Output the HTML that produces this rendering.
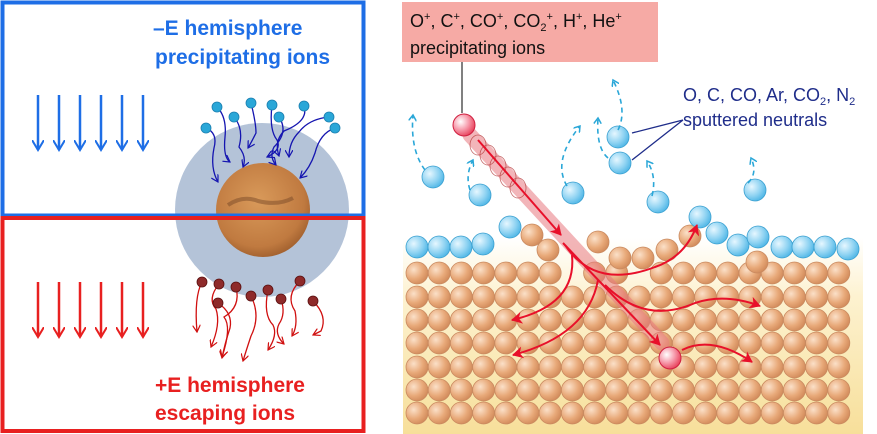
<!DOCTYPE html>
<html><head><meta charset="utf-8"><style>
html,body{margin:0;padding:0;background:#fff;width:877px;height:434px;overflow:hidden}
svg{display:block}
text{font-family:"Liberation Sans",sans-serif}
</style></head><body>
<svg id="s" width="877" height="434" viewBox="0 0 877 434" xmlns="http://www.w3.org/2000/svg">
<defs>
<radialGradient id="org" cx="0.35" cy="0.35" r="0.7"><stop offset="0" stop-color="#fbe0c8"/><stop offset="0.6" stop-color="#e8a979"/><stop offset="1" stop-color="#d18a5a"/></radialGradient>
<radialGradient id="blu" cx="0.35" cy="0.35" r="0.7"><stop offset="0" stop-color="#e6f7ff"/><stop offset="0.6" stop-color="#8fd3f2"/><stop offset="1" stop-color="#4fb6e6"/></radialGradient>
<radialGradient id="pnk" cx="0.35" cy="0.35" r="0.7"><stop offset="0" stop-color="#fff"/><stop offset="0.5" stop-color="#f7a0b0"/><stop offset="1" stop-color="#e8405a"/></radialGradient>
<radialGradient id="mars" cx="0.45" cy="0.4" r="0.65"><stop offset="0" stop-color="#d99a5a"/><stop offset="0.75" stop-color="#c07a40"/><stop offset="1" stop-color="#9a5a2a"/></radialGradient>
<linearGradient id="sand" x1="0" y1="0" x2="0" y2="1"><stop offset="0" stop-color="#fff"/><stop offset="0.3" stop-color="#fdf2d0"/><stop offset="1" stop-color="#f7df9a"/></linearGradient>
<marker id="ab" markerWidth="12" markerHeight="12" refX="10" refY="6" orient="auto" markerUnits="userSpaceOnUse"><path d="M0,0 L10,6 L0,12" fill="none" stroke="#1e6ee6" stroke-width="2"/></marker>
<marker id="ar" markerWidth="12" markerHeight="12" refX="10" refY="6" orient="auto" markerUnits="userSpaceOnUse"><path d="M0,0 L10,6 L0,12" fill="none" stroke="#e82020" stroke-width="2"/></marker>
<marker id="ad" markerWidth="8" markerHeight="8" refX="7" refY="4" orient="auto" markerUnits="userSpaceOnUse"><path d="M0,0 L7,4 L0,8" fill="none" stroke="#1515b0" stroke-width="1.2"/></marker>
<marker id="adr" markerWidth="8" markerHeight="8" refX="7" refY="4" orient="auto" markerUnits="userSpaceOnUse"><path d="M0,0 L7,4 L0,8" fill="none" stroke="#d01010" stroke-width="1.2"/></marker>
<marker id="af" markerWidth="12" markerHeight="12" refX="10" refY="6" orient="auto" markerUnits="userSpaceOnUse"><path d="M0,0 L11,6 L0,12 L3,6z" fill="#e8102a"/></marker>
<marker id="ac" markerWidth="8" markerHeight="8" refX="6" refY="4" orient="auto" markerUnits="userSpaceOnUse"><path d="M0,0 L6,4 L0,8" fill="none" stroke="#2aa7d8" stroke-width="1.5"/></marker>
</defs>
<circle cx="262" cy="210" r="87" fill="#b4c3d8"/>
<circle cx="263" cy="210" r="47" fill="url(#mars)"/>
<path d="M228,205 q15,-10 30,-4 q20,5 35,-3" stroke="#7a4a28" stroke-width="4" fill="none" opacity=".5"/>
<rect x="2.5" y="2.5" width="361" height="213" fill="none" stroke="#1e6ee6" stroke-width="4"/>
<rect x="2.5" y="218" width="361" height="213" fill="none" stroke="#e82020" stroke-width="4"/>
<text x="153" y="35" font-size="21" font-weight="bold" fill="#1e6ee6">–E hemisphere</text>
<text x="155" y="64" font-size="21" font-weight="bold" fill="#1e6ee6">precipitating ions</text>
<text x="155" y="392" font-size="21" font-weight="bold" fill="#e82020">+E hemisphere</text>
<text x="155" y="420" font-size="21" font-weight="bold" fill="#e82020">escaping ions</text>
<g stroke="#1e6ee6" stroke-width="2.5" fill="none" marker-end="url(#ab)">
<path d="M38,95 V150"/><path d="M59,95 V150"/><path d="M80,95 V150"/><path d="M101,95 V150"/><path d="M122,95 V150"/><path d="M143,95 V150"/>
</g>
<g stroke="#e82020" stroke-width="2.5" fill="none" marker-end="url(#ar)">
<path d="M38,282 V337"/><path d="M59,282 V337"/><path d="M80,282 V337"/><path d="M101,282 V337"/><path d="M122,282 V337"/><path d="M143,282 V337"/>
</g>
<g stroke="#1515b0" stroke-width="1.3" fill="none" marker-end="url(#ad)">
<path d="M206,128 q12,5 8,20 q-4,20 4,34"/>
<path d="M217,107 q10,10 8,30 q-2,20 5,25"/>
<path d="M234,117 q10,12 5,30 q8,10 4,20"/>
<path d="M251,103 q5,20 5,30 q-5,10 -8,15"/>
<path d="M272,105 q-3,25 5,35 q5,10 -10,17"/>
<path d="M279,117 q10,15 -5,30 q-5,10 2,18"/>
<path d="M304,106 q5,15 -20,25 q-10,10 -5,25"/>
<path d="M329,117 q-20,2 -30,15 q-10,10 -10,25"/>
<path d="M335,128 q-15,5 -20,25 q-5,15 -15,25"/>
</g>
<g fill="#2aa7d8" stroke="#1a7fb0" stroke-width="0.8">
<circle cx="217" cy="107" r="5"/><circle cx="251" cy="103" r="5"/><circle cx="272" cy="105" r="5"/><circle cx="304" cy="106" r="5"/><circle cx="234" cy="117" r="5"/><circle cx="279" cy="117" r="5"/><circle cx="206" cy="128" r="5"/><circle cx="329" cy="117" r="5"/><circle cx="335" cy="128" r="5"/>
</g>
<g stroke="#d01010" stroke-width="1.3" fill="none" marker-end="url(#adr)">
<path d="M202,282 q-8,15 -5,50"/>
<path d="M219,284 q-12,15 -3,25 q5,15 -5,38"/>
<path d="M236,287 q5,20 -12,30 q8,10 -2,40"/>
<path d="M218,303 q15,10 12,25 q-5,15 -8,30"/>
<path d="M251,296 q10,20 0,40 q-5,15 -8,25"/>
<path d="M268,290 q-5,25 5,35 q5,10 -5,25"/>
<path d="M281,299 q5,15 -2,25 q-5,10 5,20"/>
<path d="M300,281 q-15,15 -5,30 q3,15 -3,25"/>
<path d="M313,301 q15,15 8,30 l-8,4"/>
</g>
<g fill="#8e2a2a" stroke="#5a1010" stroke-width="0.8">
<circle cx="202" cy="282" r="5"/><circle cx="219" cy="284" r="5"/><circle cx="236" cy="287" r="5"/><circle cx="251" cy="296" r="5"/><circle cx="268" cy="290" r="5"/><circle cx="281" cy="299" r="5"/><circle cx="300" cy="281" r="5"/><circle cx="313" cy="301" r="5"/><circle cx="218" cy="303" r="5"/>
</g>
<rect x="403" y="238" width="460" height="196" fill="url(#sand)"/>
<g id="lat"></g>
<line x1="470" y1="135" x2="662" y2="343" stroke="#e87a80" stroke-width="15" stroke-linecap="round" opacity="0.55"/>
<g stroke="#b03030" stroke-width="0.8" fill="none" opacity=".7">
<ellipse cx="478" cy="145" rx="8" ry="10"/><ellipse cx="488" cy="155" rx="8" ry="10"/><ellipse cx="498" cy="166" rx="8" ry="10"/><ellipse cx="508" cy="177" rx="8" ry="10"/><ellipse cx="518" cy="188" rx="8" ry="10"/>
</g>
<g stroke="#e8102a" stroke-width="2" fill="none" marker-end="url(#af)">
<path d="M478,140 L561,235"/>
<path d="M563,243 L660,345"/>
<path d="M565,245 q30,45 90,22 q30,-10 42,-42"/>
<path d="M572,255 q5,50 -60,65"/>
<path d="M598,280 q-10,55 -85,75"/>
<path d="M605,285 q40,40 90,18 q30,-10 65,3"/>
<path d="M682,350 q30,-15 70,12"/>
</g>
<path d="M462,62 V113" stroke="#000" stroke-width="1"/>
<circle cx="464" cy="125" r="11" fill="url(#pnk)" stroke="#d02040" stroke-width="1"/>
<circle cx="670" cy="358" r="11" fill="url(#pnk)" stroke="#d02040" stroke-width="1"/>
<rect x="402" y="2" width="256" height="60" fill="#f6aaa5"/>
<text x="410" y="27" font-size="18" fill="#111">O<tspan font-size="11" dy="-7">+</tspan><tspan dy="7">, C</tspan><tspan font-size="11" dy="-7">+</tspan><tspan dy="7">, CO</tspan><tspan font-size="11" dy="-7">+</tspan><tspan dy="7">, CO</tspan><tspan font-size="11" dy="4">2</tspan><tspan font-size="11" dy="-11">+</tspan><tspan dy="7">, H</tspan><tspan font-size="11" dy="-7">+</tspan><tspan dy="7">, He</tspan><tspan font-size="11" dy="-7">+</tspan></text>
<text x="410" y="54" font-size="18" fill="#111">precipitating ions</text>
<text x="683" y="101" font-size="18" fill="#1f2d8a">O, C, CO, Ar, CO<tspan font-size="11" dy="4">2</tspan><tspan dy="-4">, N</tspan><tspan font-size="11" dy="4">2</tspan></text>
<text x="683" y="126" font-size="18" fill="#1f2d8a">sputtered neutrals</text>
<path d="M632,133 L683,120 M632,160 L683,120" stroke="#1f2d8a" stroke-width="1.3" fill="none"/>
<g id="fl"></g>
</svg>
<script>
(function(){
var ns="http://www.w3.org/2000/svg";
function c(g,x,y,f,st){var e=document.createElementNS(ns,"circle");e.setAttribute("cx",x);e.setAttribute("cy",y);e.setAttribute("r",11);e.setAttribute("fill","url(#"+f+")");e.setAttribute("stroke",st);e.setAttribute("stroke-width","0.8");g.appendChild(e);}
var lat=document.getElementById("lat");
var rows=[273,297,320,343,367,390,413];
for(var r=0;r<rows.length;r++){for(var i=0;i<20;i++){var x=417+i*22.2;if(x>852)break;
var y=rows[r];
if(r==0&&x>530&&x<700&&(i%3==1))continue;
c(lat,x,y,"org","#c98a60");}}
var tops=[[417,247,"blu"],[439,247,"blu"],[461,247,"blu"],[483,244,"blu"],[510,227,"blu"],[532,235,"org"],[548,250,"org"],[598,242,"org"],[620,258,"org"],[643,258,"org"],[667,250,"org"],[690,236,"org"],[700,217,"blu"],[717,233,"blu"],[738,245,"blu"],[758,237,"blu"],[782,247,"blu"],[803,247,"blu"],[825,247,"blu"],[848,249,"blu"],[757,262,"org"]];
tops.forEach(function(t){c(lat,t[0],t[1],t[2],t[2]=="blu"?"#3aa0d0":"#c98a60");});
var fl=document.getElementById("fl");
var fb=[[433,177],[480,195],[573,193],[658,202],[618,137],[620,163],[755,190]];
fb.forEach(function(b){c(fl,b[0],b[1],"blu","#3aa0d0");});
var dp=["M425,170 q-15,-20 -12,-55","M470,190 q-5,-15 3,-30","M567,186 q-15,-25 13,-60","M652,196 q5,-20 -5,-35","M618,130 q10,-20 -5,-50","M608,158 q-12,-10 -10,-40","M748,183 q10,-10 3,-25"];
dp.forEach(function(d){var p=document.createElementNS(ns,"path");p.setAttribute("d",d);p.setAttribute("stroke","#2aa7d8");p.setAttribute("stroke-width","1.6");p.setAttribute("stroke-dasharray","5,4");p.setAttribute("fill","none");p.setAttribute("marker-end","url(#ac)");fl.appendChild(p);});
})();
</script>
</body></html>
